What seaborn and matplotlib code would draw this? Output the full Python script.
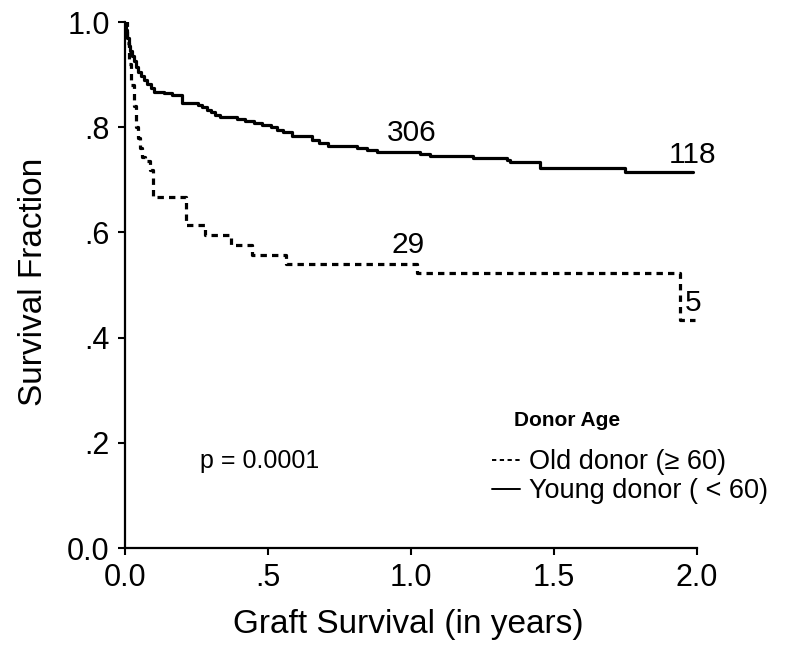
import matplotlib
matplotlib.use("Agg")
import matplotlib.pyplot as plt
import seaborn as sns
import pandas as pd
from matplotlib.lines import Line2D

# ---- data ----
young_t = [0, 0.004, 0.008, 0.013, 0.018, 0.024, 0.030, 0.037, 0.045, 0.055,
           0.065, 0.078, 0.090, 0.100, 0.135, 0.165, 0.200, 0.255, 0.270, 0.285,
           0.300, 0.315, 0.333, 0.390, 0.420, 0.450, 0.480, 0.510, 0.530, 0.552,
           0.583, 0.655, 0.680, 0.710, 0.810, 0.845, 0.880, 1.030, 1.066, 1.206,
           1.217, 1.336, 1.346, 1.451, 1.748, 1.986]
young_s = [1.0, 0.985, 0.97, 0.955, 0.945, 0.935, 0.925, 0.915, 0.905, 0.897,
           0.89, 0.882, 0.875, 0.867, 0.865, 0.861, 0.846, 0.843, 0.838, 0.832,
           0.828, 0.823, 0.819, 0.816, 0.812, 0.808, 0.804, 0.80, 0.795, 0.791,
           0.783, 0.775, 0.770, 0.764, 0.760, 0.757, 0.753, 0.749, 0.746, 0.745,
           0.741, 0.738, 0.733, 0.722, 0.715, 0.715]

old_t = [0, 0.008, 0.015, 0.022, 0.030, 0.038, 0.045, 0.052, 0.059, 0.070,
         0.087, 0.098, 0.212, 0.280, 0.370, 0.445, 0.562, 1.022, 1.940, 1.993]
old_s = [1.0, 0.96, 0.92, 0.88, 0.84, 0.80, 0.78, 0.76, 0.743, 0.735,
         0.719, 0.667, 0.614, 0.595, 0.576, 0.557, 0.540, 0.523, 0.433, 0.433]

x_ticks = [0.0, 0.5, 1.0, 1.5, 2.0]
x_tick_labels = ["0.0", ".5", "1.0", "1.5", "2.0"]
y_ticks = [0.0, 0.2, 0.4, 0.6, 0.8, 1.0]
y_tick_labels = ["0.0", ".2", ".4", ".6", ".8", "1.0"]

at_risk_labels = ["306", "118", "29", "5"]
at_risk_x = [1.003, 1.983, 0.99, 1.986]
at_risk_y = [0.789, 0.747, 0.576, 0.466]

legend_labels = ["Old donor (\u2265 60)", "Young donor ( < 60)"]

# ---- plot ----
sns.set_theme(style="ticks")
plt.rcParams["font.family"] = ["Liberation Sans", "DejaVu Sans"]
plt.rcParams["text.color"] = "black"
plt.rcParams["axes.labelcolor"] = "black"

fig = plt.figure(figsize=(8.0, 6.47), dpi=100)
ax = fig.add_axes([125 / 800, 1 - 548 / 647, 572 / 800, 526 / 647])

young_df = pd.DataFrame({"t": young_t, "s": young_s})
old_df = pd.DataFrame({"t": old_t, "s": old_s})

sns.lineplot(data=young_df, x="t", y="s", ax=ax, color="black", linewidth=2.3,
             drawstyle="steps-post", estimator=None, sort=False)
sns.lineplot(data=old_df, x="t", y="s", ax=ax, color="black", linewidth=2.3,
             drawstyle="steps-post", estimator=None, sort=False,
             linestyle=(0, (2.0, 1.6)))

ax.set_xlim(0, 2.0)
ax.set_ylim(0, 1.0)
ax.set_xticks(x_ticks)
ax.set_xticklabels(x_tick_labels)
ax.set_yticks(y_ticks)
ax.set_yticklabels(y_tick_labels)
ax.tick_params(axis="both", direction="out", length=5, width=1.5,
               labelsize=22, colors="black", pad=6)

for side in ["top", "right"]:
    ax.spines[side].set_visible(False)
for side in ["left", "bottom"]:
    ax.spines[side].set_linewidth(1.6)
    ax.spines[side].set_color("black")

ax.set_xlabel("Graft Survival (in years)", fontsize=24, color="black")
ax.set_ylabel("Survival Fraction", fontsize=24, color="black")
ax.xaxis.set_label_coords(0.495, -0.116)
ax.yaxis.set_label_coords(-0.133, 0.506)

for lab, xx, yy in zip(at_risk_labels, at_risk_x, at_risk_y):
    ax.text(xx, yy, lab, fontsize=21.5, ha="center", va="center", color="black")

ax.text(0.262, 0.165, "p = 0.0001", fontsize=18, ha="left", va="center",
        color="black")

fig.text(567 / 800, 1 - 421 / 647, "Donor Age", fontsize=15, fontweight="bold",
         ha="center", va="center", color="black")

handles = [Line2D([], [], color="black", linewidth=1.4, linestyle=(0, (2.2, 1.8))),
           Line2D([], [], color="black", linewidth=1.4)]
leg = fig.legend(handles, legend_labels, loc="upper left",
                 bbox_to_anchor=(492 / 800, 1 - 449 / 647), frameon=False,
                 fontsize=19.5, handlelength=1.05, handletextpad=0.3,
                 labelspacing=0.12, borderpad=0, borderaxespad=0)
for t in leg.get_texts():
    t.set_color("black")

fig.savefig("out.png", dpi=100, facecolor="white")
